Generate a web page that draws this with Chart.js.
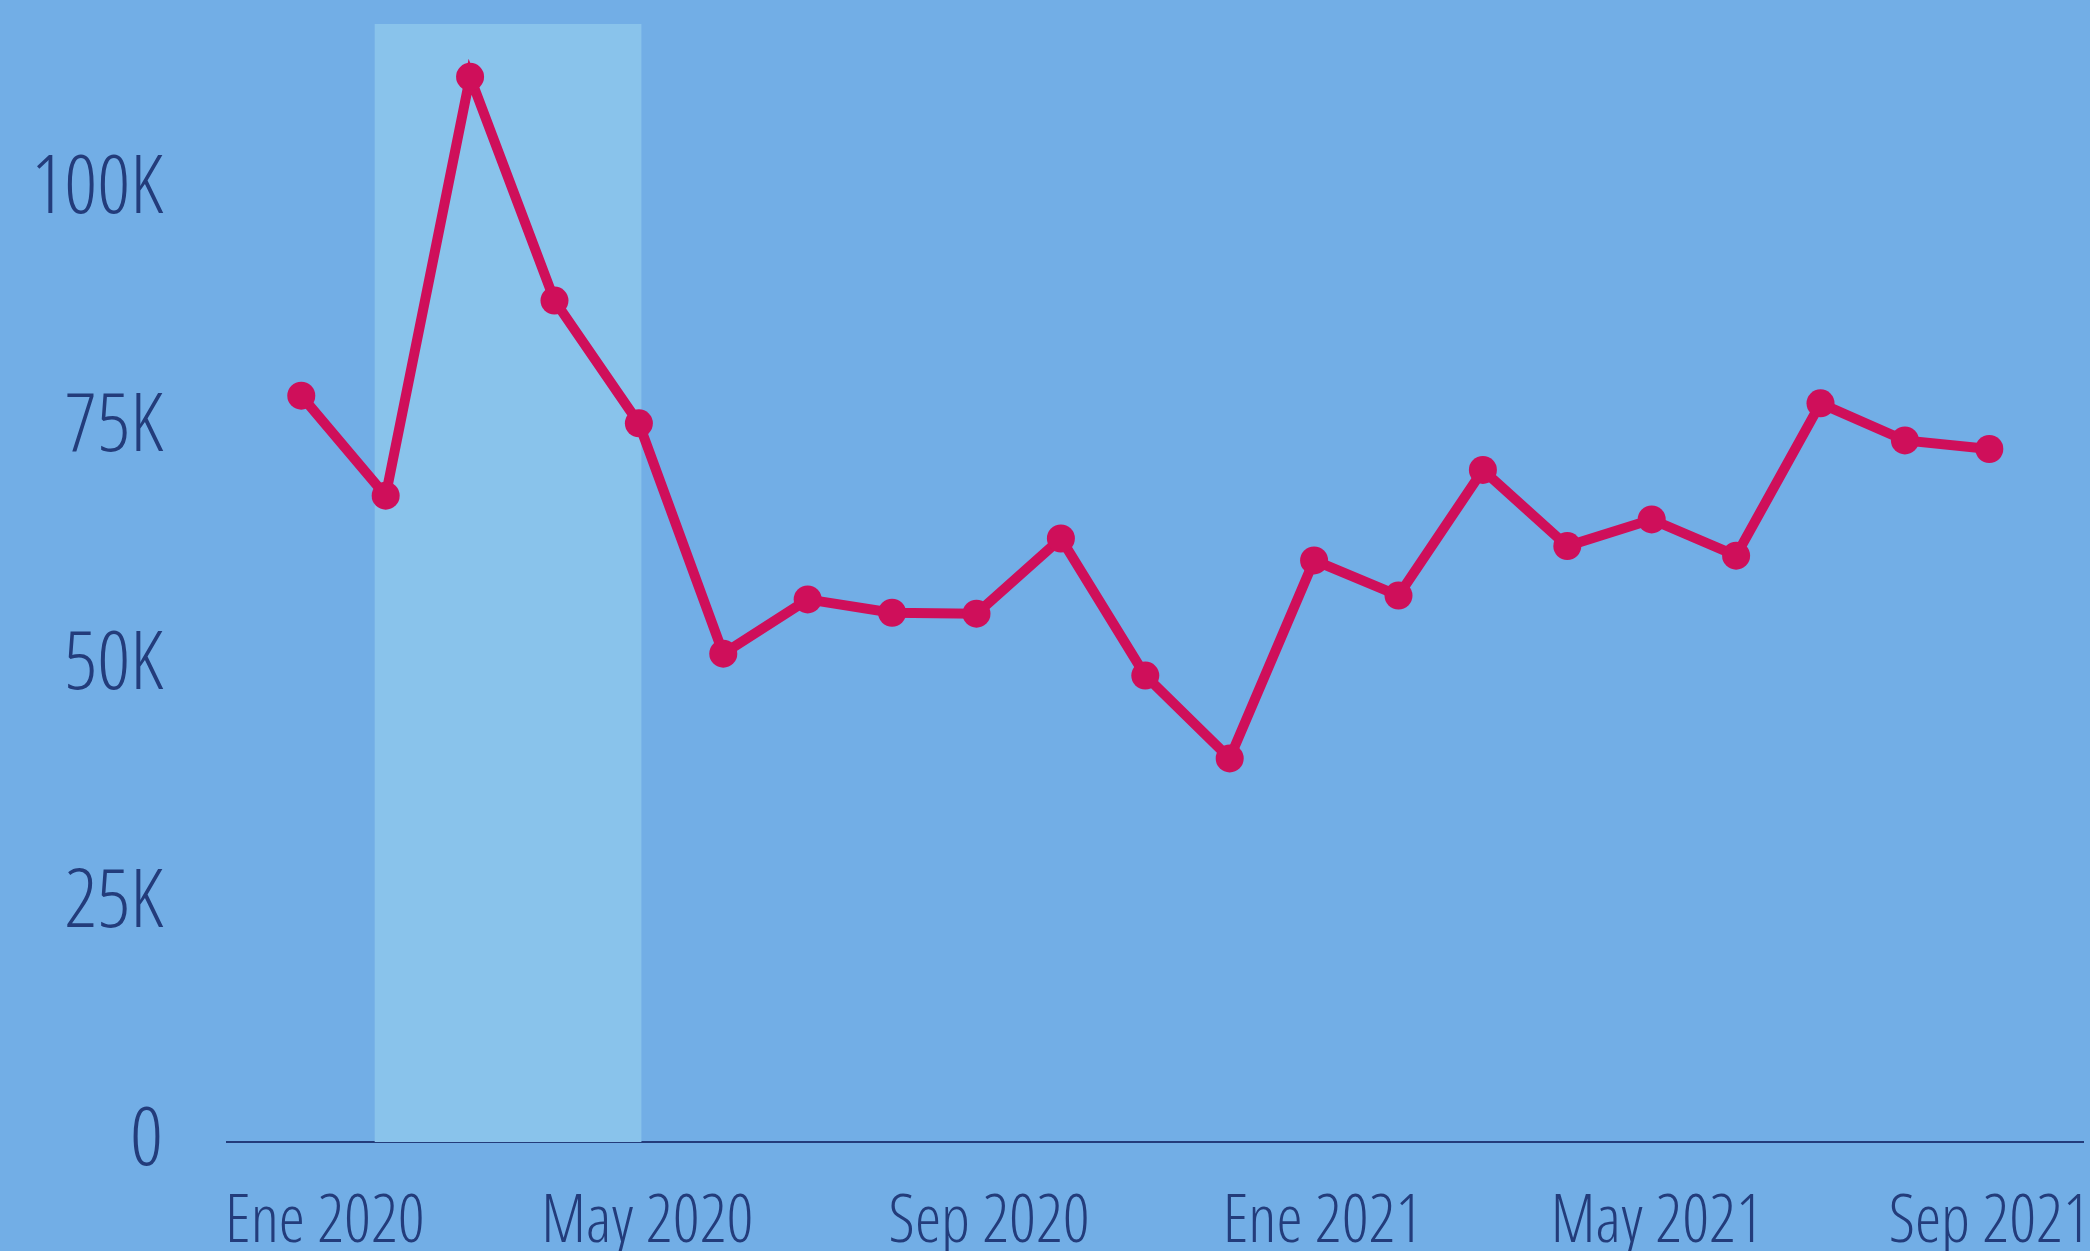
<!DOCTYPE html>
<html>
<head>
<meta charset="utf-8">
<script src="https://cdn.jsdelivr.net/npm/chart.js@4.4.1/dist/chart.umd.min.js"></script>
<style>
  html, body { margin: 0; padding: 0; background: #72aee6; overflow: hidden; }
</style>
</head>
<body>
<canvas id="lineChart" width="2090" height="1251"></canvas>
<script>
// Monthly values, Ene 2020 .. Sep 2021
const months = ['Ene 2020', 'Feb 2020', 'Mar 2020', 'Abr 2020', 'May 2020', 'Jun 2020', 'Jul 2020',
  'Ago 2020', 'Sep 2020', 'Oct 2020', 'Nov 2020', 'Dic 2020', 'Ene 2021', 'Feb 2021', 'Mar 2021',
  'Abr 2021', 'May 2021', 'Jun 2021', 'Jul 2021', 'Ago 2021', 'Sep 2021'];
const values = [78400, 67900, 111900, 88400, 75500, 51300, 57000, 55600, 55500, 63400, 49000,
  40300, 61100, 57400, 70600, 62600, 65400, 61600, 77600, 73700, 72800];
// x tick labels and where they sit (month position)
const xTickLabels = ['Ene 2020', 'May 2020', 'Sep 2020', 'Ene 2021', 'May 2021', 'Sep 2021'];
const xTickPos = [0.28, 4.1, 8.15, 12.1, 16.06, 20];
const yTicks = [0, 25000, 50000, 75000, 100000];
// highlighted period (in month positions)
const bandStart = 0.87;
const bandEnd = 4.03;

// 'condensed' goes in front of the size in the font string -> Open Sans Condensed Light
const FONT = "'Open Sans', sans-serif";
const NAVY = '#233c7b';

const bgPlugin = {
  id: 'bgPlugin',
  beforeDraw(c) {
    const { ctx, width, height } = c;
    ctx.save();
    ctx.fillStyle = '#72aee6';
    ctx.fillRect(0, 0, width, height);
    ctx.restore();
  },
  beforeDatasetsDraw(c) {
    const { ctx, chartArea: { top, bottom }, scales: { x } } = c;
    const x0 = x.getPixelForValue(bandStart);
    const x1 = x.getPixelForValue(bandEnd);
    ctx.save();
    ctx.fillStyle = '#89c3eb';
    ctx.fillRect(x0, top, x1 - x0, bottom - top);
    ctx.restore();
  }
};

const ctx = document.getElementById('lineChart').getContext('2d');
new Chart(ctx, {
  type: 'line',
  data: {
    datasets: [{
      data: values.map((v, i) => ({ x: i, y: v })),
      borderColor: '#cf0f5a',
      backgroundColor: '#cf0f5a',
      borderWidth: 10,
      pointRadius: 14,
      pointHoverRadius: 14,
      pointBorderWidth: 0,
      tension: 0,
      fill: false
    }]
  },
  options: {
    responsive: false,
    animation: false,
    layout: { autoPadding: false, padding: { top: 24, left: 0, right: 7, bottom: 0 } },
    plugins: { legend: { display: false }, tooltip: { enabled: false } },
    scales: {
      x: {
        type: 'linear',
        min: -0.88,
        max: 21.11,
        afterBuildTicks(scale) { scale.ticks = xTickPos.map(v => ({ value: v })); },
        afterFit(scale) {
          scale.height = 109;
          scale.paddingLeft = 0;
          scale.paddingRight = 0;
        },
        grid: { display: false, drawTicks: false },
        border: { display: true, color: NAVY, width: 2 },
        ticks: {
          autoSkip: false,
          maxRotation: 0,
          padding: 42,
          color: NAVY,
          font: { family: FONT, size: 66, weight: '300 condensed' },
          callback: (v, i) => xTickLabels[i]
        }
      },
      y: {
        min: 0,
        max: 117450,
        afterBuildTicks(scale) { scale.ticks = yTicks.map(v => ({ value: v })); },
        afterFit(scale) {
          scale.width = 227;
          scale.paddingTop = 0;
          scale.paddingBottom = 0;
        },
        grid: { display: false, drawTicks: false },
        border: { display: false },
        ticks: {
          padding: 64,
          color: NAVY,
          font: { family: FONT, size: 81, weight: '300 condensed' },
          callback: v => v === 0 ? '0' : (v / 1000) + 'K'
        }
      }
    }
  },
  plugins: [bgPlugin]
});
</script>
</body>
</html>
